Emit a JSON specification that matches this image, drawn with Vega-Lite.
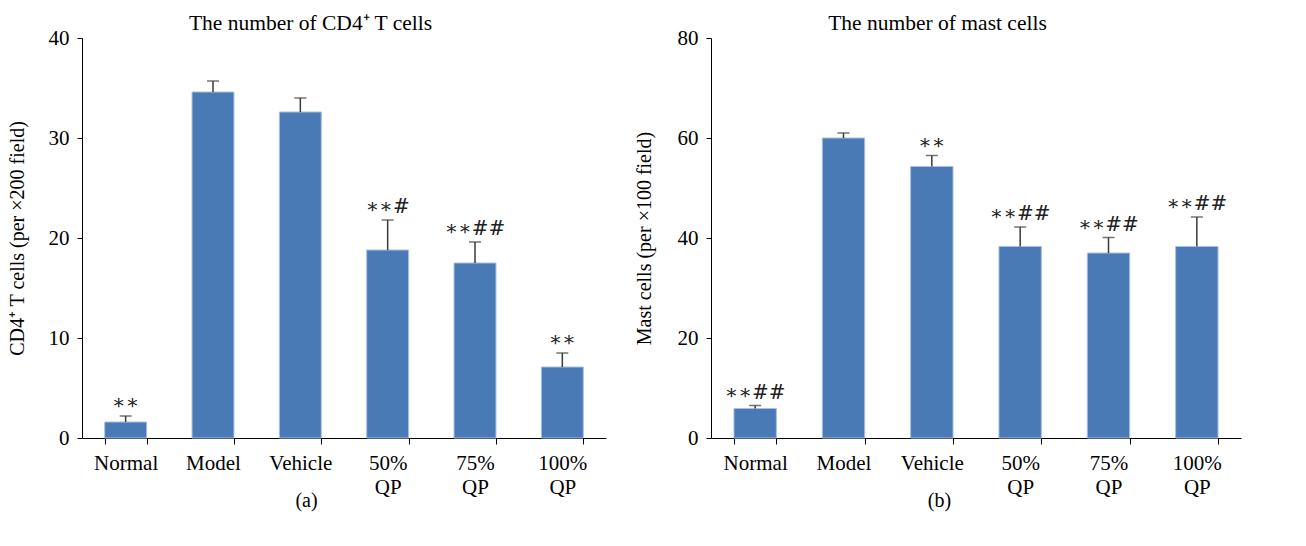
{
  "$schema": "https://vega.github.io/schema/vega-lite/v6.json",
  "background": "white",
  "padding": {"left": 7, "top": 12, "right": 5, "bottom": 5},
  "config": {
    "font": "Liberation Serif",
    "view": {"stroke": null},
    "axis": {"domainColor": "#000000", "tickColor": "#000000", "labelColor": "#000000", "titleColor": "#000000", "labelFont": "Liberation Serif", "titleFont": "Liberation Serif", "grid": false, "labelFontSize": 21, "titleFontSize": 20, "titleFontWeight": "normal"},
    "title": {"font": "Liberation Serif", "fontSize": 21.5, "fontWeight": "normal", "color": "#000000"},
    "concat": {"spacing": 28}
  },
  "datasets": {
    "cd4": [
      {"group": "Normal", "mean": 1.6, "upper": 2.2, "sig": "∗∗"},
      {"group": "Model", "mean": 34.6, "upper": 35.7, "sig": ""},
      {"group": "Vehicle", "mean": 32.6, "upper": 34.0, "sig": ""},
      {"group": "50% QP", "mean": 18.8, "upper": 21.8, "sig": "∗∗#"},
      {"group": "75% QP", "mean": 17.5, "upper": 19.6, "sig": "∗∗##"},
      {"group": "100% QP", "mean": 7.1, "upper": 8.5, "sig": "∗∗"}
    ],
    "mast": [
      {"group": "Normal", "mean": 5.9, "upper": 6.5, "sig": "∗∗##"},
      {"group": "Model", "mean": 60.0, "upper": 61.0, "sig": ""},
      {"group": "Vehicle", "mean": 54.3, "upper": 56.5, "sig": "∗∗"},
      {"group": "50% QP", "mean": 38.3, "upper": 42.2, "sig": "∗∗##"},
      {"group": "75% QP", "mean": 37.0, "upper": 40.1, "sig": "∗∗##"},
      {"group": "100% QP", "mean": 38.3, "upper": 44.2, "sig": "∗∗##"}
    ]
  },
  "hconcat": [
    {
      "width": 524,
      "height": 400,
      "title": {"text": "The number of CD4⁺ T cells", "anchor": "middle", "frame": "bounds", "offset": -7, "dx": 4},
      "data": {"name": "cd4"},
      "encoding": {
        "x": {"field": "group", "type": "nominal", "sort": null,
          "scale": {"paddingInner": 0.52, "paddingOuter": 0.26},
          "axis": {"title": "(a)", "titleX": 224, "titlePadding": -7, "labelAngle": 0, "tickBand": "extent", "tickSize": 6, "labelPadding": 8, "labelLineHeight": 24, "labelExpr": "split(datum.label, ' ')"}}
      },
      "layer": [
        {"mark": {"type": "bar", "color": "#4a7ab5", "stroke": "#a8c0de", "strokeWidth": 1},
         "encoding": {"y": {"field": "mean", "type": "quantitative", "scale": {"domain": [0, 40]},
           "axis": {"title": "CD4⁺ T cells (per ×200 field)", "values": [0, 10, 20, 30, 40], "tickSize": 5, "labelPadding": 8, "titlePadding": 21}}}},
        {"mark": {"type": "rule", "color": "#3a3a3a", "strokeWidth": 1.5},
         "encoding": {"y": {"field": "mean", "type": "quantitative"}, "y2": {"field": "upper"}}},
        {"mark": {"type": "tick", "color": "#3a3a3a", "size": 12, "thickness": 1.5},
         "encoding": {"y": {"field": "upper", "type": "quantitative"}}},
        {"mark": {"type": "text", "baseline": "bottom", "dy": -3, "fontSize": 20, "font": "DejaVu Serif", "color": "#222222"},
         "encoding": {"y": {"field": "upper", "type": "quantitative"}, "text": {"field": "sig"}}}
      ]
    },
    {
      "width": 530,
      "height": 400,
      "title": {"text": "The number of mast cells", "anchor": "middle", "frame": "bounds", "offset": -7},
      "data": {"name": "mast"},
      "encoding": {
        "x": {"field": "group", "type": "nominal", "sort": null,
          "scale": {"paddingInner": 0.52, "paddingOuter": 0.26},
          "axis": {"title": "(b)", "titleX": 228, "titlePadding": -7, "labelAngle": 0, "tickBand": "extent", "tickSize": 6, "labelPadding": 8, "labelLineHeight": 24, "labelExpr": "split(datum.label, ' ')"}}
      },
      "layer": [
        {"mark": {"type": "bar", "color": "#4a7ab5", "stroke": "#a8c0de", "strokeWidth": 1},
         "encoding": {"y": {"field": "mean", "type": "quantitative", "scale": {"domain": [0, 80]},
           "axis": {"title": "Mast cells (per ×100 field)", "values": [0, 20, 40, 60, 80], "tickSize": 5, "labelPadding": 8, "titlePadding": 23}}}},
        {"mark": {"type": "rule", "color": "#3a3a3a", "strokeWidth": 1.5},
         "encoding": {"y": {"field": "mean", "type": "quantitative"}, "y2": {"field": "upper"}}},
        {"mark": {"type": "tick", "color": "#3a3a3a", "size": 12, "thickness": 1.5},
         "encoding": {"y": {"field": "upper", "type": "quantitative"}}},
        {"mark": {"type": "text", "baseline": "bottom", "dy": -3, "fontSize": 20, "font": "DejaVu Serif", "color": "#222222"},
         "encoding": {"y": {"field": "upper", "type": "quantitative"}, "text": {"field": "sig"}}}
      ]
    }
  ]
}
